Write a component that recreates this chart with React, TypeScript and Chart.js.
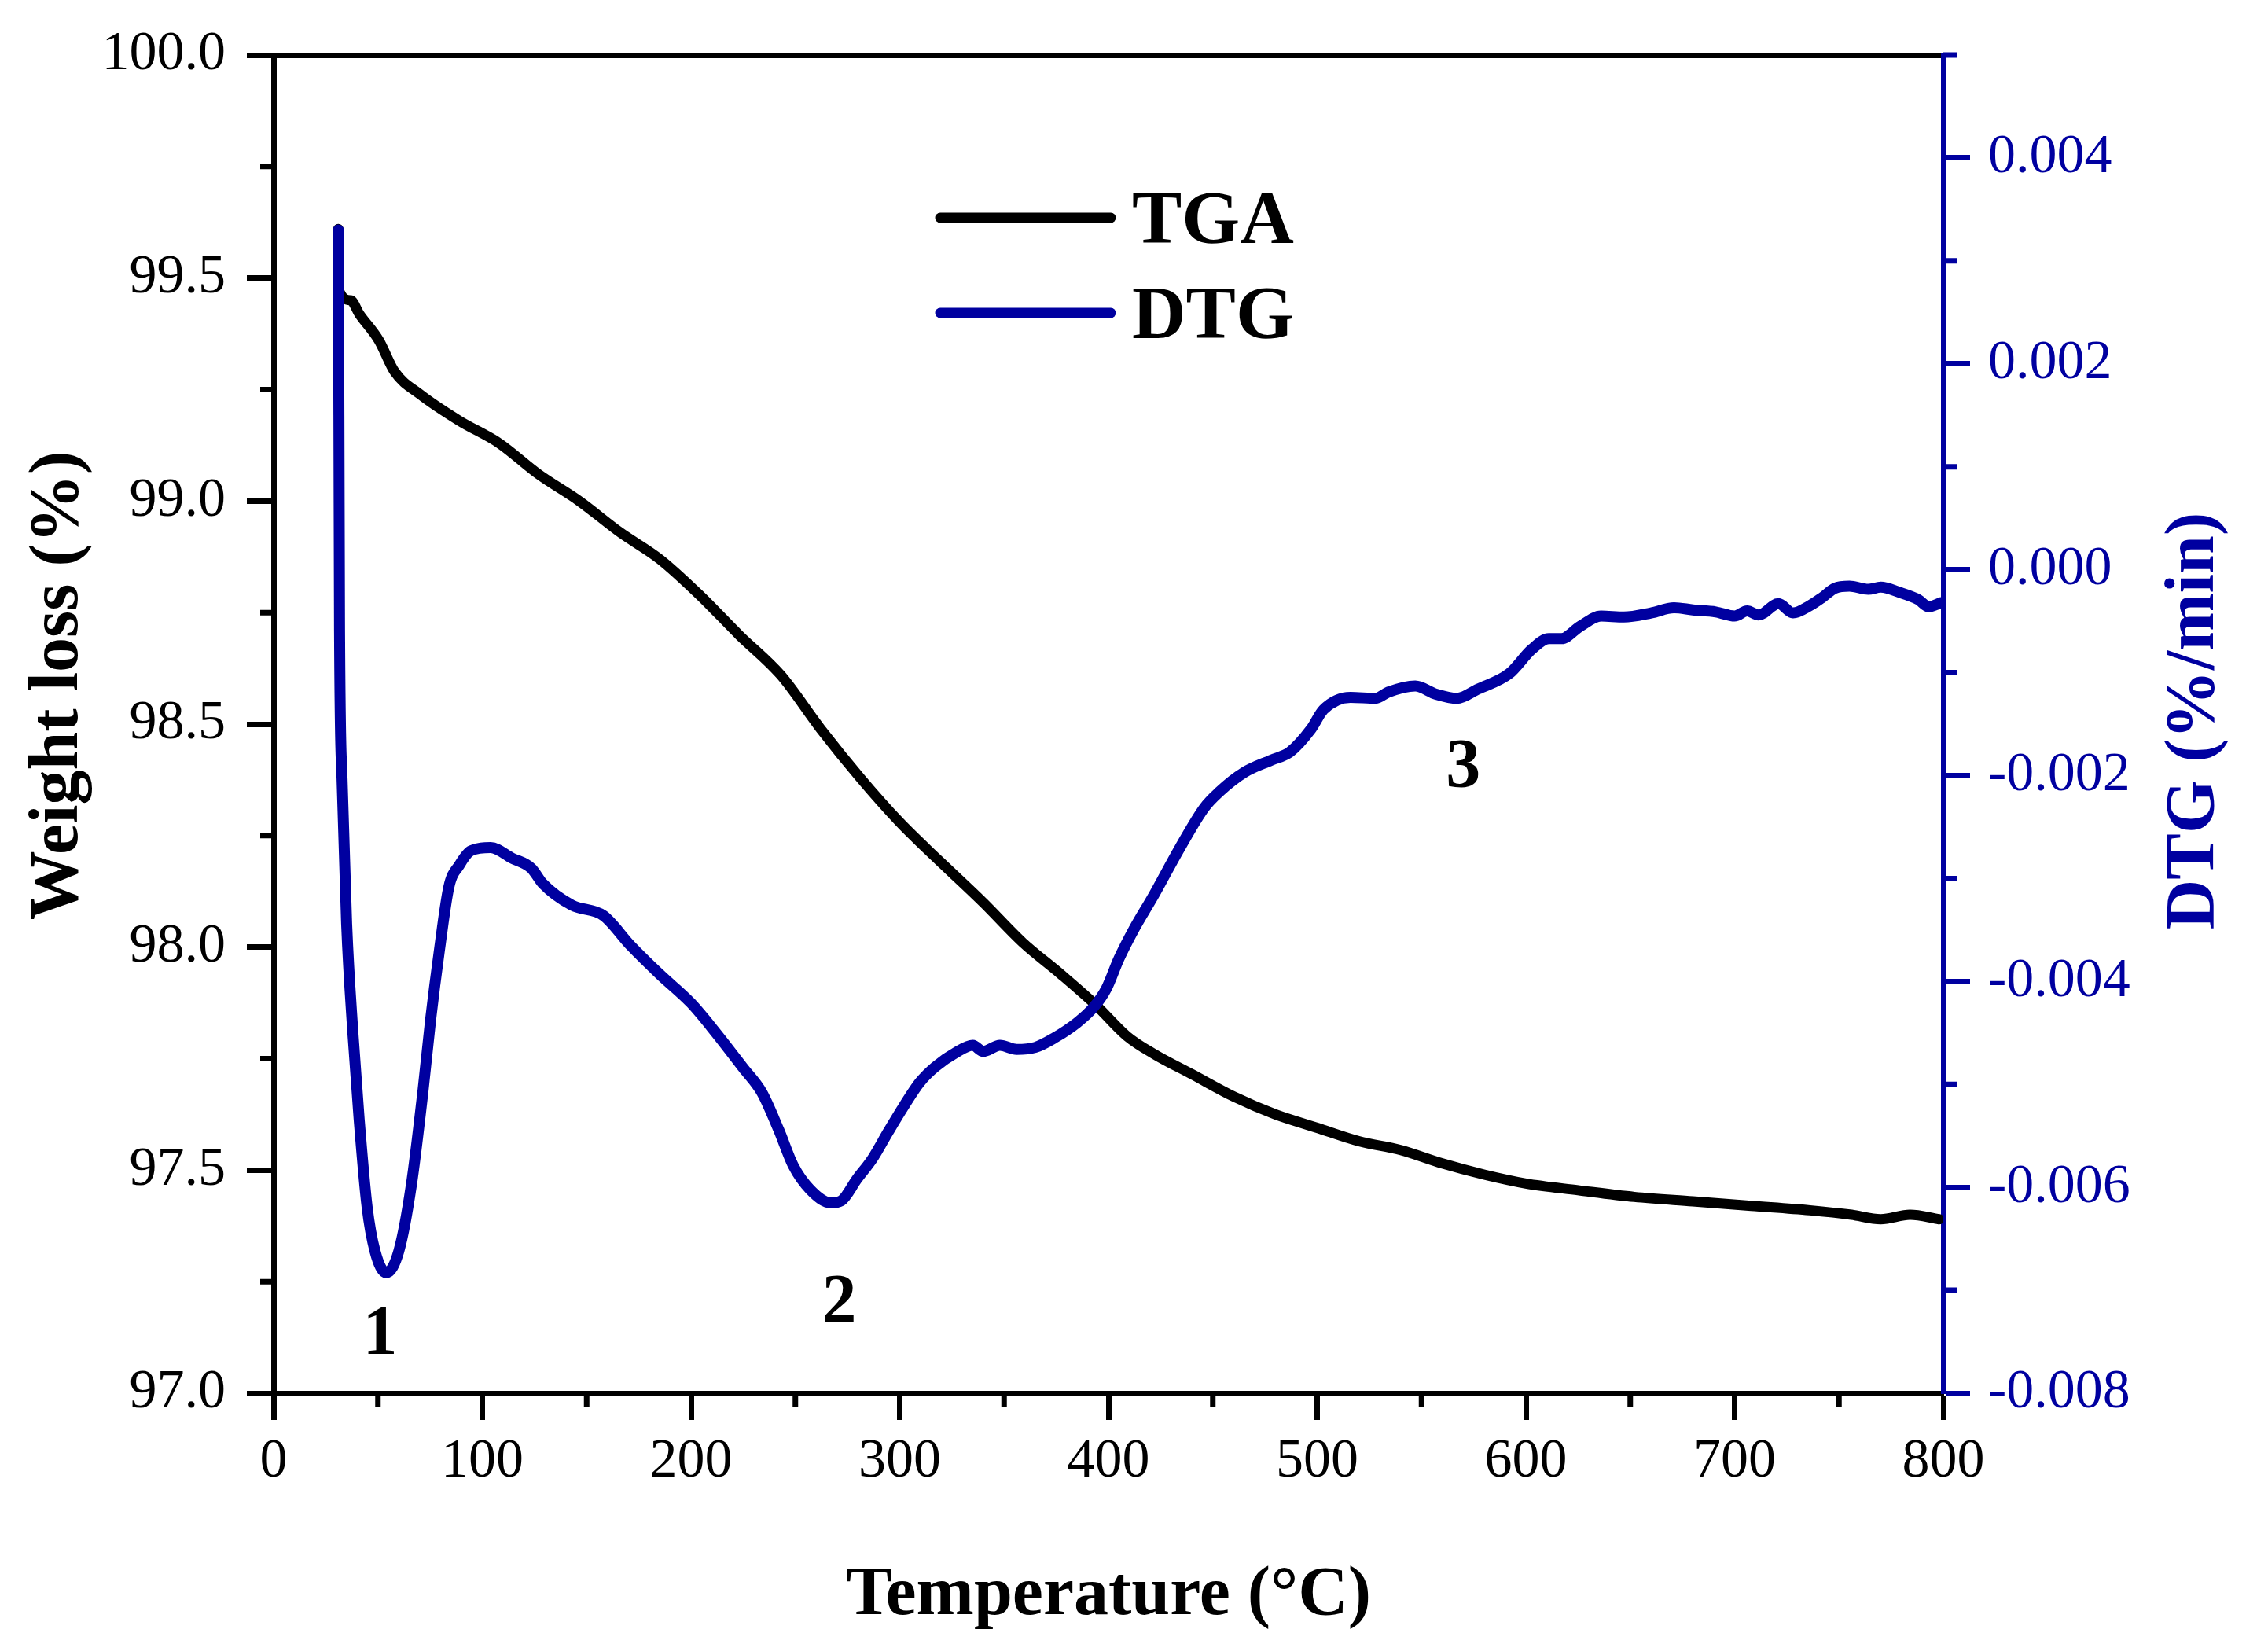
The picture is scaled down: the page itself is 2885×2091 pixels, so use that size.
import React, { useEffect, useRef } from "react";
import { Chart, registerables, Plugin, ChartConfiguration } from "chart.js";

Chart.register(...registerables);

// TGA curve: temperature (°C) / weight (%)
const tgaTemp = [
  31, 31.5, 37, 41, 50.5, 58, 70, 89, 108, 127, 146.5, 166, 185, 204, 223, 243,
  262, 281, 300, 313, 322, 340, 359, 377, 394, 409, 422, 440, 460, 480, 500, 520,
  540, 560, 580, 600, 625, 652, 680, 708, 736, 756, 770, 784, 798,
];
const tgaWeight = [
  99.61, 99.47, 99.45, 99.42, 99.36, 99.29, 99.24, 99.18, 99.13, 99.06, 99.0,
  98.93, 98.87, 98.79, 98.7, 98.61, 98.49, 98.38, 98.28, 98.22, 98.18, 98.1,
  98.01, 97.94, 97.87, 97.8, 97.76, 97.715, 97.665, 97.625, 97.595, 97.565,
  97.545, 97.515, 97.49, 97.47, 97.455, 97.44, 97.43, 97.42, 97.41, 97.4, 97.39,
  97.4, 97.39,
];

// DTG curve: temperature (°C) / rate (%/min)
const dtgTemp = [
  31, 31.3, 31.6, 32.8, 35, 38, 41, 44.8, 48.6, 54, 60, 66, 71.6, 75.3, 79.3, 84,
  89, 94.6, 104, 114, 123.5, 129, 143, 158, 171, 185, 200, 212, 225, 234, 242,
  249, 257, 267, 272, 279.5, 287, 294.5, 302, 309.6, 317, 327, 335, 340, 348,
  356, 365, 374, 385, 392.5, 399, 405, 412, 421.5, 434, 446, 453, 465, 478, 487,
  497, 503, 516, 528, 534, 547, 557, 567, 577, 592, 603, 611, 617, 626, 636, 647,
  660, 671, 680, 691, 700, 706, 711.5, 721, 728, 736, 742, 748, 755, 764, 770,
  779, 788, 793, 799,
];
const dtgRate = [
  0.0033, 0.0015, -0.0006, -0.00203, -0.00344, -0.0045, -0.00534, -0.00619,
  -0.00662, -0.00683, -0.00662, -0.00598, -0.00506, -0.00436, -0.00372,
  -0.00308, -0.00287, -0.00273, -0.0027, -0.0028, -0.0029, -0.00305, -0.00326,
  -0.00336, -0.00365, -0.00393, -0.00421, -0.0045, -0.00484, -0.00508, -0.00544,
  -0.00579, -0.00602, -0.00615, -0.00613, -0.00592, -0.00572, -0.00546,
  -0.00521, -0.00498, -0.00483, -0.00469, -0.00462, -0.00468, -0.00462,
  -0.00466, -0.00464, -0.00455, -0.0044, -0.00426, -0.00407, -0.00378, -0.0035,
  -0.00317, -0.00271, -0.00231, -0.00216, -0.00197, -0.00185, -0.00177,
  -0.00155, -0.00136, -0.00124, -0.00125, -0.00119, -0.00113, -0.00121,
  -0.00125, -0.00116, -0.00101, -0.00077, -0.00067, -0.00067, -0.00055,
  -0.00045, -0.00046, -0.00042, -0.00037, -0.00039, -0.00041, -0.00045, -0.0004,
  -0.00044, -0.00033, -0.00042, -0.00035, -0.00027, -0.00018, -0.00016,
  -0.00019, -0.00017, -0.00022, -0.00029, -0.00036, -0.00032,
];

const tempTicks = [0, 100, 200, 300, 400, 500, 600, 700, 800];
const tempMinorTicks = [50, 150, 250, 350, 450, 550, 650, 750];
const weightTicks = [97, 97.5, 98, 98.5, 99, 99.5, 100];
const weightMinorTicks = [97.25, 97.75, 98.25, 98.75, 99.25, 99.75];
const dtgTicks = [-0.008, -0.006, -0.004, -0.002, 0, 0.002, 0.004];
const dtgMinorTicks = [-0.007, -0.005, -0.003, -0.001, 0.001, 0.003, 0.005];

// stage labels, placed on the weight axis
const stageLabels = ["1", "2", "3"];
const stageTemp = [51, 271, 570];
const stageWeight = [97.13, 97.2, 98.4];

const BLUE = "#0000A0";
const SERIF = "'Liberation Serif', 'Times New Roman', serif";

const decorations: Plugin<"line"> = {
  id: "decorations",
  afterDraw(chart) {
    const { ctx, chartArea: a, scales } = chart;
    ctx.save();

    // minor ticks
    ctx.lineWidth = 7;
    ctx.lineCap = "butt";
    ctx.strokeStyle = "#000";
    ctx.beginPath();
    tempMinorTicks.forEach((v) => {
      const x = scales.x.getPixelForValue(v);
      ctx.moveTo(x, a.bottom);
      ctx.lineTo(x, a.bottom + 17);
    });
    weightMinorTicks.forEach((v) => {
      const y = scales.y.getPixelForValue(v);
      ctx.moveTo(a.left, y);
      ctx.lineTo(a.left - 17, y);
    });
    ctx.stroke();
    ctx.strokeStyle = BLUE;
    ctx.beginPath();
    dtgMinorTicks.forEach((v) => {
      const y = scales.y2.getPixelForValue(v);
      ctx.moveTo(a.right, y);
      ctx.lineTo(a.right + 17, y);
    });
    ctx.stroke();

    // axis titles
    ctx.font = `bold 88px ${SERIF}`;
    ctx.textAlign = "center";
    ctx.textBaseline = "alphabetic";
    ctx.fillStyle = "#000";
    ctx.fillText("Temperature (°C)", (a.left + a.right) / 2, 2053);

    ctx.save();
    ctx.translate(98, 872);
    ctx.rotate(-Math.PI / 2);
    ctx.fillText("Weight loss (%)", 0, 0);
    ctx.restore();

    ctx.save();
    ctx.fillStyle = BLUE;
    ctx.translate(2815, 917);
    ctx.rotate(-Math.PI / 2);
    ctx.fillText("DTG (%/min)", 0, 0);
    ctx.restore();

    // legend
    const rows = [277, 398];
    chart.data.datasets.forEach((ds, i) => {
      const y = rows[i];
      ctx.strokeStyle = ds.borderColor as string;
      ctx.lineWidth = 13;
      ctx.lineCap = "round";
      ctx.beginPath();
      ctx.moveTo(1196, y);
      ctx.lineTo(1413, y);
      ctx.stroke();
      ctx.fillStyle = "#000";
      ctx.font = `bold 95px ${SERIF}`;
      ctx.textAlign = "left";
      ctx.fillText(ds.label as string, 1440, y + 32);
    });

    // stage numbers
    ctx.font = `bold 88px ${SERIF}`;
    ctx.textAlign = "center";
    ctx.textBaseline = "middle";
    ctx.fillStyle = "#000";
    stageLabels.forEach((t, i) => {
      ctx.fillText(
        t,
        scales.x.getPixelForValue(stageTemp[i]),
        scales.y.getPixelForValue(stageWeight[i])
      );
    });

    ctx.restore();
  },
};

const tickFont = { family: SERIF, size: 70 };

const config: ChartConfiguration<"line"> = {
  type: "line",
  data: {
    datasets: [
      {
        label: "TGA",
        data: tgaTemp.map((t, i) => ({ x: t, y: tgaWeight[i] })),
        yAxisID: "y",
        borderColor: "#000",
        borderWidth: 13,
        pointRadius: 0,
        cubicInterpolationMode: "monotone",
        borderCapStyle: "round",
        borderJoinStyle: "round",
        order: 1,
      },
      {
        label: "DTG",
        data: dtgTemp.map((t, i) => ({ x: t, y: dtgRate[i] })),
        yAxisID: "y2",
        borderColor: BLUE,
        borderWidth: 14,
        pointRadius: 0,
        cubicInterpolationMode: "monotone",
        borderCapStyle: "round",
        borderJoinStyle: "round",
        order: 0,
      },
    ],
  },
  options: {
    responsive: false,
    animation: false,
    devicePixelRatio: 1,
    events: [],
    layout: { padding: 0 },
    plugins: { legend: { display: false }, tooltip: { enabled: false } },
    scales: {
      x: {
        type: "linear",
        position: "bottom",
        min: 0,
        max: 800,
        afterBuildTicks: (s) => {
          s.ticks = tempTicks.map((v) => ({ value: v }));
        },
        afterFit: (s) => {
          s.height = 319;
        },
        ticks: {
          font: tickFont,
          color: "#000",
          padding: 12,
          autoSkip: false,
          maxRotation: 0,
          minRotation: 0,
          callback: (v) => String(v),
        },
        grid: {
          drawOnChartArea: false,
          tickLength: 34,
          tickWidth: 7,
          tickColor: "#000",
        },
        border: { display: true, color: "#000", width: 7 },
      },
      xTop: {
        type: "linear",
        position: "top",
        min: 0,
        max: 800,
        afterFit: (s) => {
          s.height = 70;
        },
        ticks: { display: false },
        grid: { display: false, drawTicks: false },
        border: { display: true, color: "#000", width: 7 },
      },
      y: {
        type: "linear",
        position: "left",
        min: 97,
        max: 100,
        afterBuildTicks: (s) => {
          s.ticks = weightTicks.map((v) => ({ value: v }));
        },
        afterFit: (s) => {
          s.width = 348;
        },
        ticks: {
          font: tickFont,
          color: "#000",
          padding: 27,
          autoSkip: false,
          callback: (v) => Number(v).toFixed(1),
        },
        grid: {
          drawOnChartArea: false,
          tickLength: 34,
          tickWidth: 7,
          tickColor: "#000",
        },
        border: { display: true, color: "#000", width: 7 },
      },
      y2: {
        type: "linear",
        position: "right",
        min: -0.008,
        max: 0.005,
        afterBuildTicks: (s) => {
          s.ticks = dtgTicks.map((v) => ({ value: v }));
        },
        afterFit: (s) => {
          s.width = 413;
        },
        ticks: {
          font: tickFont,
          color: BLUE,
          padding: 23,
          autoSkip: false,
          callback: (v) => Number(v).toFixed(3),
        },
        grid: {
          drawOnChartArea: false,
          tickLength: 34,
          tickWidth: 7,
          tickColor: BLUE,
        },
        border: { display: true, color: BLUE, width: 7 },
      },
    },
  },
  plugins: [decorations],
};

export default function App() {
  const canvasRef = useRef<HTMLCanvasElement>(null);

  useEffect(() => {
    if (!canvasRef.current) return;
    const chart = new Chart(canvasRef.current, config);
    return () => {
      chart.destroy();
    };
  }, []);

  return (
    <div
      style={{
        position: "fixed",
        left: 0,
        top: 0,
        width: 2885,
        height: 2091,
        background: "#fff",
      }}
    >
      <canvas
        ref={canvasRef}
        width={2885}
        height={2091}
        style={{ display: "block" }}
      />
    </div>
  );
}
